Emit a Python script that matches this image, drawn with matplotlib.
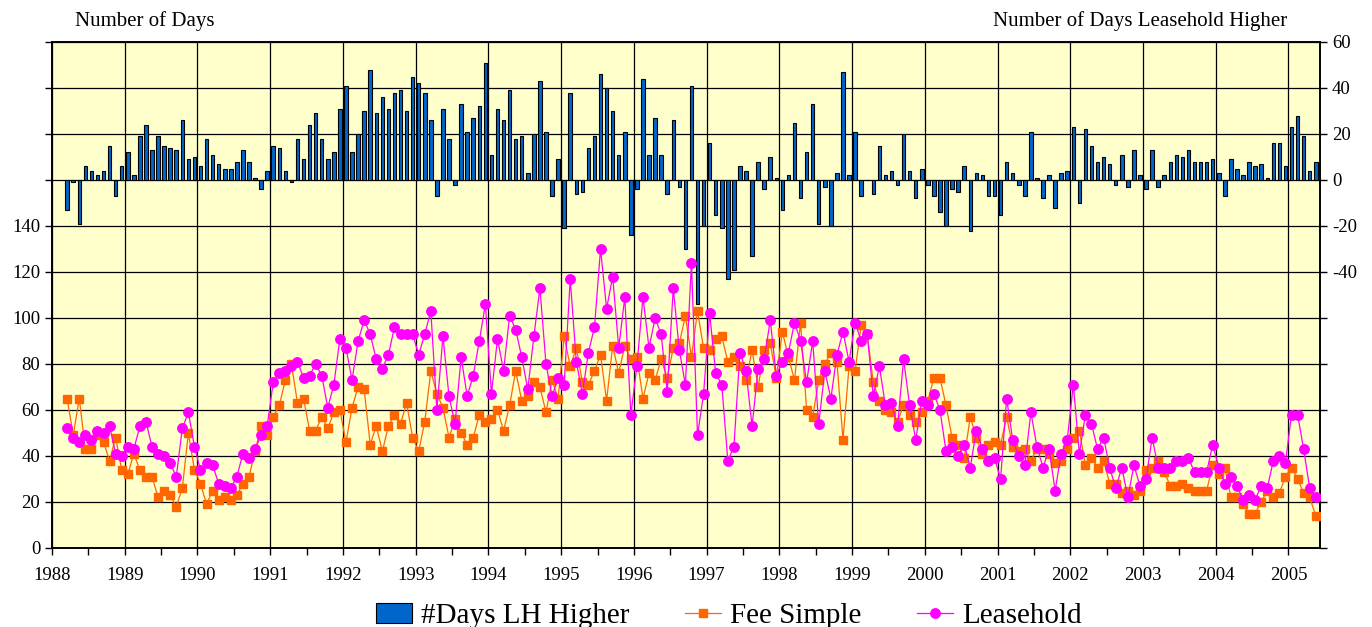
#!/usr/bin/env python3

import matplotlib
matplotlib.use("Agg")
import matplotlib.pyplot as plt
import numpy as np

# monthly series, March 1988 .. May 2005
start_year = 1988
start_month = 3

fee_simple = [
    65, 49, 65, 43, 43, 49, 46, 38, 48, 34,                  # 1988
    32, 41, 34, 31, 31, 22, 25, 23, 18, 26, 50, 34,          # 1989
    28, 19, 25, 21, 22, 21, 23, 28, 31, 42, 53, 49,          # 1990
    57, 62, 73, 80, 63, 65, 51, 51, 57, 52, 59, 60,          # 1991
    46, 61, 70, 69, 45, 53, 42, 53, 58, 54, 63, 48,          # 1992
    42, 55, 77, 67, 61, 48, 56, 50, 45, 48, 58, 55,          # 1993
    56, 60, 51, 62, 77, 64, 66, 72, 70, 59, 73, 65,          # 1994
    92, 79, 87, 72, 71, 77, 84, 64, 88, 76, 88, 82,          # 1995
    83, 65, 76, 73, 82, 74, 87, 89, 101, 83, 103, 87,        # 1996
    86, 91, 92, 81, 83, 79, 73, 86, 70, 86, 89, 74,          # 1997
    94, 83, 73, 98, 60, 57, 73, 80, 85, 81, 47, 79,          # 1998
    77, 97, 93, 72, 64, 60, 59, 55, 62, 58, 55, 59,          # 1999
    64, 74, 74, 62, 48, 45, 39, 57, 48, 41, 45, 46,          # 2000
    45, 57, 44, 42, 43, 38, 43, 43, 41, 37, 38, 43,          # 2001
    48, 51, 36, 39, 35, 38, 28, 28, 24, 25, 23, 25,          # 2002
    34, 35, 38, 33, 27, 27, 28, 26, 25, 25, 25, 36,          # 2003
    32, 35, 22, 22, 19, 15, 15, 20, 25, 22, 24, 31,          # 2004
    35, 30, 24, 22, 14,                                      # 2005
]

leasehold = [
    52, 48, 46, 49, 47, 51, 50, 53, 41, 40,
    44, 43, 53, 55, 44, 41, 40, 37, 31, 52, 59, 44,
    34, 37, 36, 28, 27, 26, 31, 41, 39, 43, 49, 53,
    72, 76, 77, 79, 81, 74, 75, 80, 75, 61, 71, 91,
    87, 73, 90, 99, 93, 82, 78, 84, 96, 93, 93, 93,
    84, 93, 103, 60, 92, 66, 54, 83, 66, 75, 90, 106,
    67, 91, 77, 101, 95, 83, 69, 92, 113, 80, 66, 74,
    71, 117, 81, 67, 85, 96, 130, 104, 118, 87, 109, 58,
    79, 109, 87, 100, 93, 68, 113, 86, 71, 124, 49, 67,
    102, 76, 71, 38, 44, 85, 77, 53, 78, 82, 99, 75,
    81, 85, 98, 90, 72, 90, 54, 77, 65, 84, 94, 81,
    98, 90, 93, 66, 79, 62, 63, 53, 82, 62, 47, 64,
    62, 67, 60, 42, 44, 40, 45, 35, 51, 43, 38, 39,
    30, 65, 47, 40, 36, 59, 44, 35, 43, 25, 41, 47,
    71, 41, 58, 54, 43, 48, 35, 26, 35, 22, 36, 27,
    30, 48, 35, 35, 35, 38, 38, 39, 33, 33, 33, 45,
    35, 28, 31, 27, 21, 23, 21, 27, 26, 38, 40, 37,
    58, 58, 43, 26, 22,
]

days_lh_higher = [
    -13, -1, -19, 6, 4, 2, 4, 15, -7, 6,
    12, 2, 19, 24, 13, 19, 15, 14, 13, 26, 9, 10,
    6, 18, 11, 7, 5, 5, 8, 13, 8, 1, -4, 4,
    15, 14, 4, -1, 18, 9, 24, 29, 18, 9, 12, 31,
    41, 12, 20, 30, 48, 29, 36, 31, 38, 39, 30, 45,
    42, 38, 26, -7, 31, 18, -2, 33, 21, 27, 32, 51,
    11, 31, 26, 39, 18, 19, 3, 20, 43, 21, -7, 9,
    -21, 38, -6, -5, 14, 19, 46, 40, 30, 11, 21, -24,
    -4, 44, 11, 27, 11, -6, 26, -3, -30, 41, -54, -20,
    16, -15, -21, -43, -39, 6, 4, -33, 8, -4, 10, 1,
    -13, 2, 25, -8, 12, 33, -19, -3, -20, 3, 47, 2,
    21, -7, 0, -6, 15, 2, 4, -2, 20, 4, -8, 5,
    -2, -7, -14, -20, -4, -5, 6, -22, 3, 2, -7, -7,
    -15, 8, 3, -2, -7, 21, 1, -8, 2, -12, 3, 4,
    23, -10, 22, 15, 8, 10, 7, -2, 11, -3, 13, 2,
    -4, 13, -3, 2, 8, 11, 10, 13, 8, 8, 8, 9,
    3, -7, 9, 5, 2, 8, 6, 7, 1, 16, 16, 6,
    23, 28, 19, 4, 8,
]

years = list(range(1988, 2006))

# month centres as decimal years
x = start_year + (np.arange(len(fee_simple)) + start_month - 0.5) / 12.0

plt.rcParams['font.family'] = ['Liberation Serif', 'DejaVu Serif']

fig = plt.figure(figsize=(13.72, 6.27), dpi=100)
ax2 = fig.add_axes([52 / 1372, 1 - 548 / 627, 1268 / 1372, 506 / 627])
ax = ax2.twinx()

# bars live on the back axis, lines in front
ax2.set_facecolor('#FFFFCC')
ax.patch.set_visible(False)

ax2.bar(x, days_lh_higher, width=0.58 / 12, color='#0066CC',
        edgecolor='black', linewidth=0.8, zorder=3, label='#Days LH Higher')
ax2.set_ylim(-160, 60)
ax2.set_yticks(range(-160, 61, 20))
ax2.set_yticklabels([str(v) if v >= -40 else '' for v in range(-160, 61, 20)])
ax2.yaxis.tick_right()
ax2.yaxis.set_label_position('right')

ax.plot(x, fee_simple, color='#FF6600', marker='s', markersize=5.5,
        linewidth=0.9, label='Fee Simple', zorder=4)
ax.plot(x, leasehold, color='#FF00FF', marker='o', markersize=6.8,
        linewidth=0.9, label='Leasehold', zorder=5)
ax.set_ylim(0, 220)
ax.set_yticks(range(0, 221, 20))
ax.set_yticklabels([str(v) if v <= 140 else '' for v in range(0, 221, 20)])
ax.yaxis.tick_left()

ax2.set_xlim(1988, 2005 + 5.2 / 12)
ax2.set_xticks(years)
ax2.set_xticks(np.arange(1988.5, 2005.5, 1.0), minor=True)
ax2.set_xticklabels([str(y) for y in years])

# grid lines
for v in range(-160, 61, 20):
    ax2.axhline(v, color='black', linewidth=0.9, zorder=1)
for y in years:
    ax2.axvline(y, color='black', linewidth=0.9, zorder=1)

for a in (ax, ax2):
    a.tick_params(labelsize=13.5, direction='out', length=5, width=1)
    a.tick_params(which='minor', direction='out', length=5, width=1)
    for s in a.spines.values():
        s.set_linewidth(1.2)
ax2.tick_params(axis='x', pad=9)

fig.text(75 / 1372, 1 - 21 / 627, 'Number of Days', fontsize=15, va='center', ha='left')
fig.text(1287 / 1372, 1 - 21 / 627, 'Number of Days Leasehold Higher', fontsize=15,
         va='center', ha='right')

h1, l1 = ax2.get_legend_handles_labels()
h2, l2 = ax.get_legend_handles_labels()
fig.legend(h1 + h2, l1 + l2, loc='lower center', bbox_to_anchor=(0.531, -0.045),
           ncol=3, frameon=False, fontsize=21, columnspacing=1.9,
           handlelength=1.25, handletextpad=0.3)

fig.savefig('out.png', dpi=100)
